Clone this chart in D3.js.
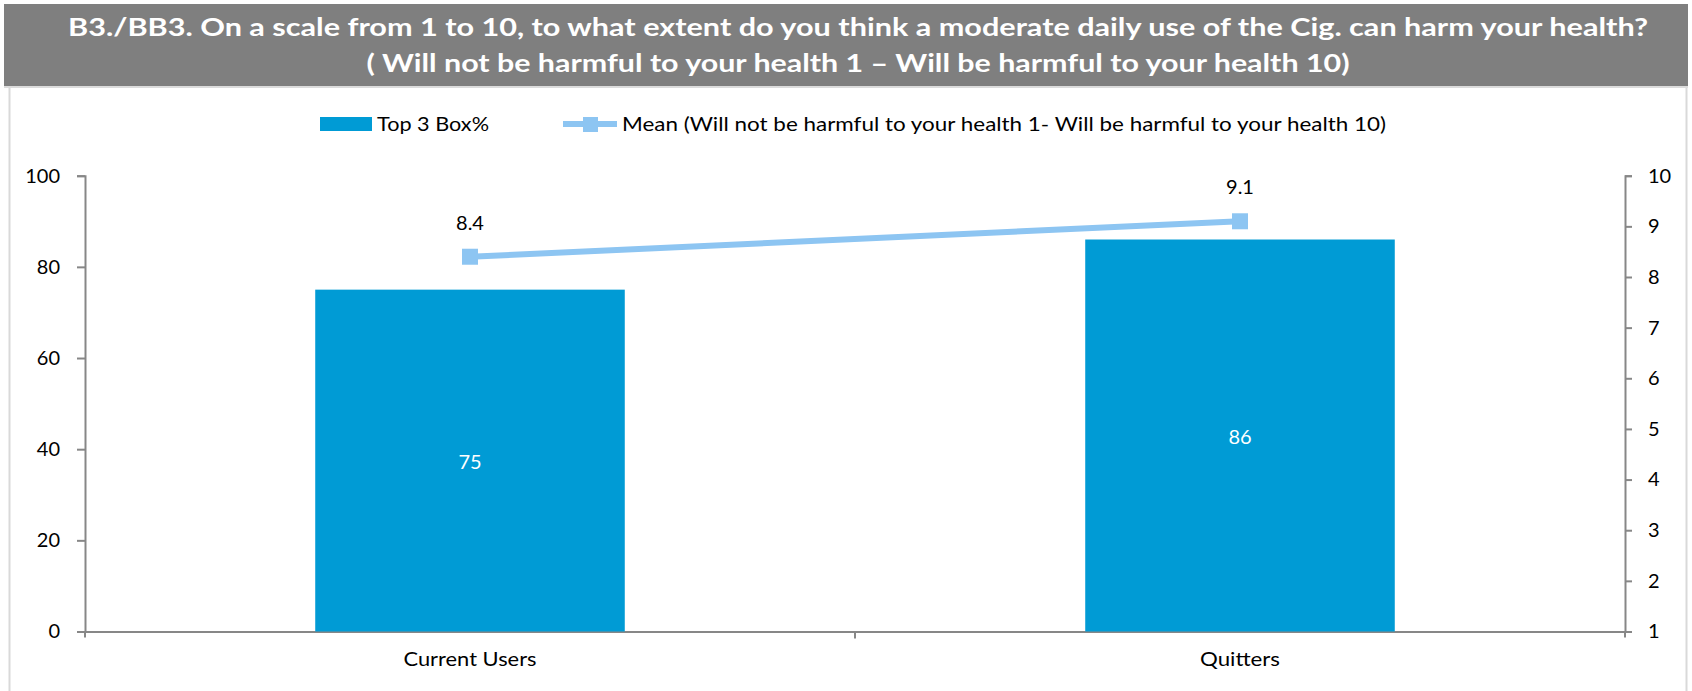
<!DOCTYPE html>
<html><head><meta charset="utf-8">
<script src="https://cdn.jsdelivr.net/npm/d3@7"></script>
<style>
html,body{margin:0;padding:0;background:#fff;}
svg{display:block;font-family:Lato,"Open Sans",sans-serif;}
</style></head>
<body><svg id="c" width="1692" height="691"></svg>
<script>
const titleLines = ["B3./BB3. On a scale from 1 to 10, to what extent do you think a moderate daily use of the Cig. can harm your health?",
                    "( Will not be harmful to your health 1 \u2013 Will be harmful to your health 10)"];
const categories = ["Current Users", "Quitters"];
const top3Box = [75, 86];
const meanValues = [8.4, 9.1];
const leftTicks = [0, 20, 40, 60, 80, 100];
const rightTicks = [1, 2, 3, 4, 5, 6, 7, 8, 9, 10];
const seriesNames = ["Top 3 Box%", "Mean (Will not be harmful to your health 1- Will be harmful to your health 10)"];

(function () {
const svg = d3.select("#c");
const barColor = "#009BD5", lineColor = "#8DC5F2", axisColor = "#878787";

// frame
svg.append("rect").attr("x", 9.5).attr("y", 80).attr("width", 1677).attr("height", 620)
  .attr("fill", "#fff").attr("stroke", "#d9d9d9").attr("stroke-width", 2);
// title bar
svg.append("rect").attr("x", 4).attr("y", 4).attr("width", 1684).attr("height", 82).attr("fill", "#7f7f7f");
svg.append("line").attr("x1", 4).attr("x2", 1688).attr("y1", 87).attr("y2", 87).attr("stroke", "#dcdcdc").attr("stroke-width", 2);
const titleY = [26, 62], titleW = [1580, 983];
titleLines.forEach((t, i) => {
  svg.append("text").attr("x", 858).attr("y", titleY[i]).attr("text-anchor", "middle")
    .attr("dominant-baseline", "central").attr("fill", "#fff").attr("font-weight", "bold")
    .attr("font-size", 25).attr("textLength", titleW[i]).attr("lengthAdjust", "spacingAndGlyphs").text(t);
});

const pL = 85, pR = 1625, pT = 175.7, pB = 631.5;
const x = d3.scaleBand().domain(categories).range([pL, pR]).padding(0);
const yL = d3.scaleLinear().domain([0, 100]).range([pB, pT]);
const yR = d3.scaleLinear().domain([1, 10]).range([pB, pT]);
const barW = x.bandwidth() * 0.402;

// axes
const gL = svg.append("g").attr("transform", `translate(${pL},0)`)
  .call(d3.axisLeft(yL).tickValues(leftTicks).tickSize(8).tickPadding(17).tickSizeOuter(8));
const gR = svg.append("g").attr("transform", `translate(${pR},0)`)
  .call(d3.axisRight(yR).tickValues(rightTicks).tickSize(7).tickPadding(16).tickSizeOuter(7));
const gX = svg.append("g").attr("transform", `translate(0,${pB})`)
  .call(d3.axisBottom(x).tickSize(0).tickPadding(20).tickSizeOuter(0));
[gL, gR, gX].forEach(g => {
  g.selectAll("path,line").attr("stroke", axisColor).attr("stroke-width", 2);
  g.selectAll("text").attr("font-size", 20).attr("fill", "#000").attr("font-family", "Lato,sans-serif");
});
gX.selectAll("text").attr("textLength", d => d === "Current Users" ? 133 : 80).attr("lengthAdjust", "spacingAndGlyphs");
// category boundary ticks
svg.append("g").selectAll("line").data(categories.slice(1)).join("line")
  .attr("x1", d => x(d)).attr("x2", d => x(d)).attr("y1", pB).attr("y2", pB + 7)
  .attr("stroke", axisColor).attr("stroke-width", 2);
[pL, pR].forEach(v => svg.append("line").attr("x1", v).attr("x2", v).attr("y1", pB).attr("y2", pB + 6)
  .attr("stroke", axisColor).attr("stroke-width", 2));

// bars
svg.append("g").selectAll("rect").data(categories).join("rect")
  .attr("x", d => x(d) + x.bandwidth() / 2 - barW / 2)
  .attr("y", (d, i) => yL(top3Box[i]))
  .attr("width", barW)
  .attr("height", (d, i) => pB - yL(top3Box[i]))
  .attr("fill", barColor);
svg.append("g").selectAll("text").data(categories).join("text")
  .attr("x", d => x(d) + x.bandwidth() / 2)
  .attr("y", (d, i) => (yL(top3Box[i]) + pB) / 2)
  .attr("text-anchor", "middle").attr("dominant-baseline", "central")
  .attr("fill", "#fff").attr("font-size", 20).text((d, i) => top3Box[i]);

// line
const cx = d => x(d) + x.bandwidth() / 2;
svg.append("path").datum(categories)
  .attr("d", d3.line().x(cx).y((d, i) => yR(meanValues[i])))
  .attr("fill", "none").attr("stroke", lineColor).attr("stroke-width", 6);
svg.append("g").selectAll("rect").data(categories).join("rect")
  .attr("x", d => cx(d) - 8).attr("y", (d, i) => yR(meanValues[i]) - 8)
  .attr("width", 16).attr("height", 16).attr("fill", lineColor);
svg.append("g").selectAll("text").data(categories).join("text")
  .attr("x", cx).attr("y", (d, i) => yR(meanValues[i]) - 35)
  .attr("text-anchor", "middle").attr("dominant-baseline", "central")
  .attr("fill", "#000").attr("font-size", 20).text((d, i) => meanValues[i].toFixed(1));

// legend
const lg = svg.append("g");
lg.append("rect").attr("x", 320).attr("y", 117).attr("width", 52).attr("height", 14).attr("fill", barColor);
lg.append("text").attr("x", 377).attr("y", 123).attr("dominant-baseline", "central")
  .attr("font-size", 20).attr("fill", "#000").attr("textLength", 112).attr("lengthAdjust", "spacingAndGlyphs").text(seriesNames[0]);
lg.append("line").attr("x1", 563).attr("x2", 617).attr("y1", 124).attr("y2", 124)
  .attr("stroke", lineColor).attr("stroke-width", 6);
lg.append("rect").attr("x", 583).attr("y", 117).attr("width", 15).attr("height", 15).attr("fill", lineColor);
lg.append("text").attr("x", 622).attr("y", 123).attr("dominant-baseline", "central")
  .attr("font-size", 20).attr("fill", "#000").attr("textLength", 764).attr("lengthAdjust", "spacingAndGlyphs").text(seriesNames[1]);
})();
</script></body></html>
